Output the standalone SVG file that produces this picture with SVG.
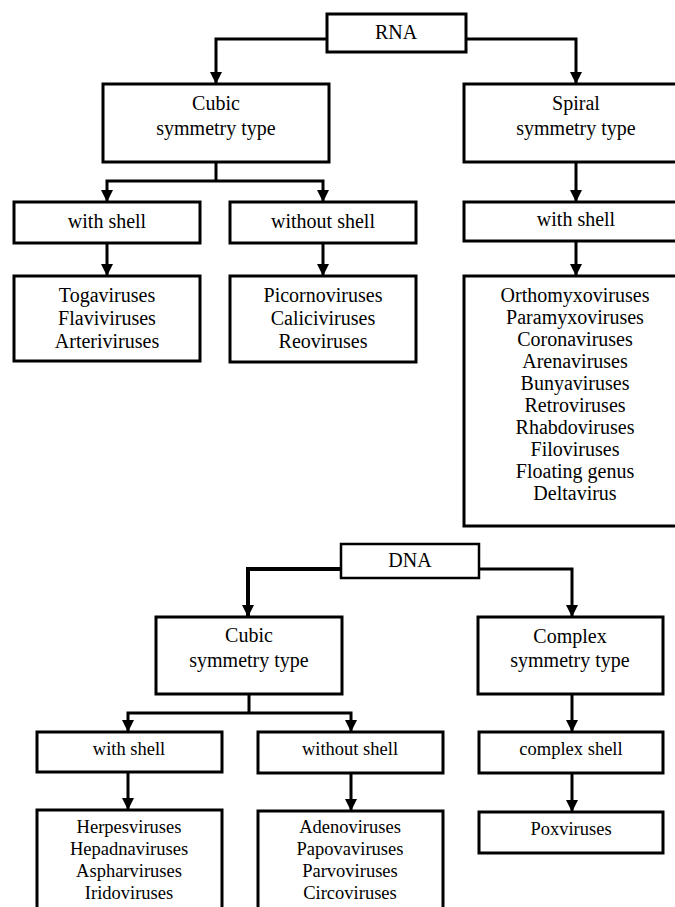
<svg xmlns="http://www.w3.org/2000/svg" width="675" height="907" viewBox="0 0 675 907">
<defs>
<style>
.box{fill:#fff;stroke:#000;stroke-width:3}
.thin{stroke-width:2.5}
.con{fill:none;stroke:#000;stroke-width:3}
.arr{marker-end:url(#ah)}
text{font-family:"Liberation Serif","Times New Roman",serif;font-size:20px;fill:#000;text-anchor:middle}
.s{font-size:18.5px}
</style>
<marker id="ah" markerUnits="userSpaceOnUse" markerWidth="12" markerHeight="12" viewBox="0 0 12 12" refX="12" refY="6" orient="auto">
<path d="M0,0 L12,6 L0,12 z" fill="#000"/>
</marker>
</defs>
<rect width="675" height="907" fill="#fff"/>
<g id="connectors">
<path class="con arr" d="M327 39 H216 V84"/>
<path class="con arr" d="M466 39 H576 V84"/>
<path class="con" d="M216 162 V181"/>
<path class="con arr" d="M216 181 H107 V202"/>
<path class="con arr" d="M216 181 H323 V202"/>
<path class="con arr" d="M107 243 V276"/>
<path class="con arr" d="M323 243 V276"/>
<path class="con arr" d="M576 162 V202"/>
<path class="con arr" d="M576 241 V276"/>
<path class="con arr" d="M341 569 H248 V617" style="stroke-width:4"/>
<path class="con arr" d="M479 569 H572 V617"/>
<path class="con" d="M249 694 V713"/>
<path class="con arr" d="M249 713 H128 V732"/>
<path class="con arr" d="M249 713 H351 V732"/>
<path class="con arr" d="M128 772 V810"/>
<path class="con arr" d="M351 773 V811"/>
<path class="con arr" d="M572 694 V732"/>
<path class="con arr" d="M572 773 V812"/>
</g>
<g id="rna"><rect class="box" x="327" y="14" width="139" height="38"/><text x="396" y="39">RNA</text></g>
<g id="rna-cubic"><rect class="box" x="103" y="84" width="226" height="78"/><text x="216" y="110">Cubic</text><text x="216" y="135">symmetry type</text></g>
<g id="rna-spiral"><rect class="box" x="464" y="84" width="226" height="78"/><text x="576" y="110">Spiral</text><text x="576" y="135">symmetry type</text></g>
<g id="rna-with-shell"><rect class="box" x="14" y="202" width="186" height="41"/><text x="107" y="228">with shell</text></g>
<g id="rna-without-shell"><rect class="box" x="230" y="202" width="186" height="41"/><text x="323" y="228">without shell</text></g>
<g id="rna-spiral-shell"><rect class="box" x="464" y="202" width="226" height="39"/><text x="576" y="226">with shell</text></g>
<g id="rna-toga"><rect class="box" x="14" y="276" width="186" height="85"/><text x="107" y="302">Togaviruses</text><text x="107" y="325">Flaviviruses</text><text x="107" y="348">Arteriviruses</text></g>
<g id="rna-picorno"><rect class="box" x="230" y="276" width="186" height="86"/><text x="323" y="302">Picornoviruses</text><text x="323" y="325">Caliciviruses</text><text x="323" y="348">Reoviruses</text></g>
<g id="rna-ortho"><rect class="box" x="464" y="276" width="226" height="250"/>
<text x="575" y="302">Orthomyxoviruses</text><text x="575" y="324">Paramyxoviruses</text><text x="575" y="346">Coronaviruses</text><text x="575" y="368">Arenaviruses</text><text x="575" y="390">Bunyaviruses</text><text x="575" y="412">Retroviruses</text><text x="575" y="434">Rhabdoviruses</text><text x="575" y="456">Filoviruses</text><text x="575" y="478">Floating genus</text><text x="575" y="500">Deltavirus</text></g>
<g id="dna"><rect class="box thin" x="341" y="544" width="138" height="34"/><text x="410" y="567">DNA</text></g>
<g id="dna-cubic"><rect class="box" x="156" y="617" width="186" height="77"/><text x="249" y="642">Cubic</text><text x="249" y="667">symmetry type</text></g>
<g id="dna-complex"><rect class="box" x="478" y="617" width="185" height="77"/><text x="570" y="643">Complex</text><text x="570" y="667">symmetry type</text></g>
<g id="dna-with-shell"><rect class="box" x="37" y="732" width="185" height="40"/><text class="s" x="129" y="755">with shell</text></g>
<g id="dna-without-shell"><rect class="box" x="258" y="732" width="185" height="41"/><text class="s" x="350" y="755">without shell</text></g>
<g id="dna-complex-shell"><rect class="box" x="479" y="732" width="184" height="41"/><text class="s" x="571" y="755">complex shell</text></g>
<g id="dna-herpes"><rect class="box" x="37" y="810" width="185" height="120"/><text class="s" x="129" y="833">Herpesviruses</text><text class="s" x="129" y="855">Hepadnaviruses</text><text class="s" x="129" y="877">Aspharviruses</text><text class="s" x="129" y="899">Iridoviruses</text></g>
<g id="dna-adeno"><rect class="box" x="258" y="811" width="185" height="120"/><text class="s" x="350" y="833">Adenoviruses</text><text class="s" x="350" y="855">Papovaviruses</text><text class="s" x="350" y="877">Parvoviruses</text><text class="s" x="350" y="899">Circoviruses</text></g>
<g id="dna-pox"><rect class="box" x="479" y="812" width="184" height="41"/><text class="s" x="571" y="835">Poxviruses</text></g>
</svg>
